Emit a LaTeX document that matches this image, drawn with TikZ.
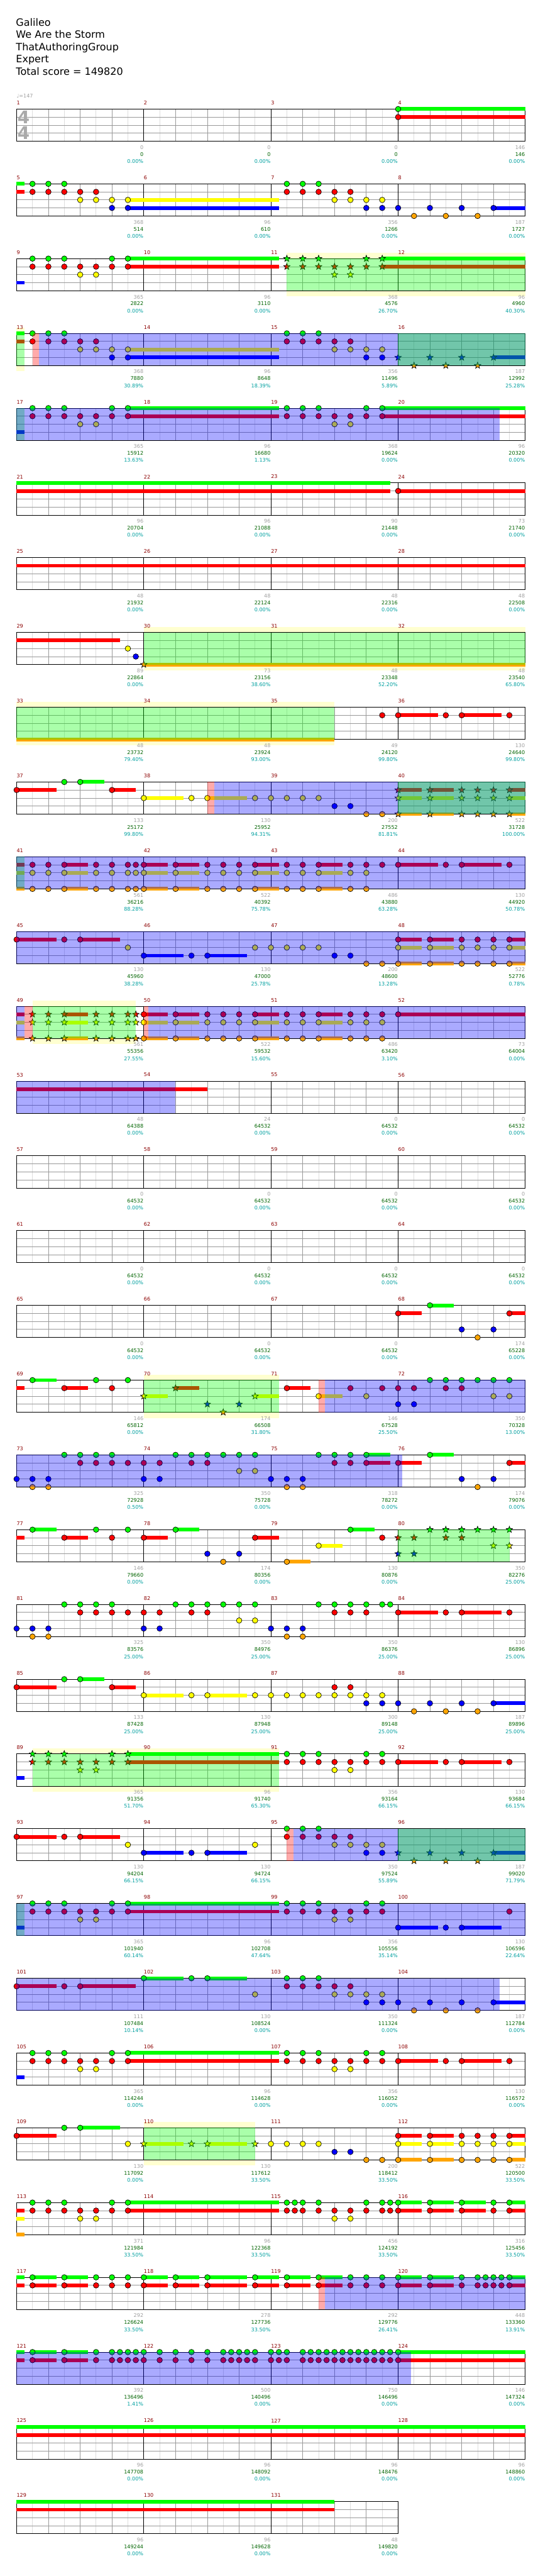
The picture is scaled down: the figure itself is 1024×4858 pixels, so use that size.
\documentclass[tikz,border=0pt]{standalone}
\usepackage{fontspec}
\setmainfont{DejaVu Sans}
\definecolor{ln0}{RGB}{0,255,0}
\definecolor{ln1}{RGB}{255,0,0}
\definecolor{ln2}{RGB}{255,255,0}
\definecolor{ln3}{RGB}{0,0,255}
\definecolor{ln4}{RGB}{255,165,0}
\definecolor{ybc}{RGB}{255,255,208}
\definecolor{gridlight}{RGB}{221,221,221}
\definecolor{gridmid}{RGB}{153,153,153}
\definecolor{mred}{RGB}{140,0,0}
\definecolor{sgray}{RGB}{160,160,160}
\definecolor{sgreen}{RGB}{0,100,0}
\definecolor{steal}{RGB}{0,160,160}
\definecolor{tsgray}{RGB}{170,170,170}
\pgfdeclarelayer{bgl}\pgfdeclarelayer{gridl}\pgfdeclarelayer{susl}\pgfdeclarelayer{notel}\pgfdeclarelayer{ovl}
\pgfsetlayers{bgl,gridl,susl,notel,ovl,main}
\newcommand\lanesp{15.15}
\newcommand\staffh{60.6}
\newcommand\smf{\fontsize{9.6}{11}\selectfont}
% circle notes: lanes, positions
\newcommand\xn[2]{\begin{pgfonlayer}{notel}\foreach \ll in {#1}{\foreach \pp in {#2}{\draw[notec,fill=ln\ll] ({30*\pp},{\lanesp*\ll}) circle[radius=5.2pt];}}\end{pgfonlayer}}
% star notes
\newcommand\xs[2]{\begin{pgfonlayer}{notel}\foreach \ll in {#1}{\foreach \pp in {#2}{\draw[notec,fill=ln\ll] ({30*\pp},{\lanesp*\ll}) +(90:6.4pt) -- +(126:2.7pt) -- +(162:6.4pt) -- +(198:2.7pt) -- +(234:6.4pt) -- +(270:2.7pt) -- +(306:6.4pt) -- +(342:2.7pt) -- +(18:6.4pt) -- +(54:2.7pt) -- cycle;}}\end{pgfonlayer}}
% sustains: lanes, from, to
\newcommand\xu[3]{\begin{pgfonlayer}{susl}\foreach \ll in {#1}{\fill[ln\ll] ({30*#2},{\lanesp*\ll-3.5}) rectangle ({30*#3},{\lanesp*\ll+3.5});}\end{pgfonlayer}}
% overlays
\newcommand\xg[2]{\begin{pgfonlayer}{ovl}\fill[ln0,fill opacity=0.3333] ({30*#1},0) rectangle ({30*#2},\staffh);\end{pgfonlayer}}
\newcommand\xb[2]{\begin{pgfonlayer}{ovl}\fill[ln3,fill opacity=0.3333] ({30*#1},0) rectangle ({30*#2},\staffh);\end{pgfonlayer}}
\newcommand\xp[2]{\begin{pgfonlayer}{ovl}\fill[ln1,fill opacity=0.3333] ({30*#1},0) rectangle ({30*#2},\staffh);\end{pgfonlayer}}
\newcommand\xy[2]{\begin{pgfonlayer}{bgl}\fill[ybc] ({30*#1},-10.5) rectangle ({30*#2},0);\fill[ybc] ({30*#1},\staffh) rectangle ({30*#2},71.2);\end{pgfonlayer}}
% grid
\newcommand\xgrid[1]{\begin{pgfonlayer}{gridl}%
\pgfmathtruncatemacro\xne{8*#1-1}\pgfmathtruncatemacro\xnm{#1-1}%
\foreach \ii in {1,3,...,\xne}{\draw[gl] ({30*\ii},0) -- ({30*\ii},\staffh);}
\foreach \ii in {1,2,3}{\draw[gm] (0,{\lanesp*\ii}) -- ({240*#1},{\lanesp*\ii});}
\foreach \ii in {2,4,...,\xne}{\draw[gm] ({30*\ii},0) -- ({30*\ii},\staffh);}
\foreach \ii in {1,...,\xnm}{\draw[gk] ({240*\ii},0) -- ({240*\ii},\staffh);}
\draw[gk] (0,0) rectangle ({240*#1},\staffh);
\end{pgfonlayer}}
% labels: slot, measure, a, b, c
\newcommand\xlab[5]{%
\node[mnum,name=mn#2] at ({240*#1},-11.7) {#2};
\node[lga,name=sa#2] at ({240*#1+239.5},72.2) {#3};
\node[lgb,name=sb#2] at ({240*#1+239.5},85.2) {#4};
\node[lgc,name=sc#2] at ({240*#1+239.5},98.5) {#5};}
\begin{document}
\begin{tikzpicture}[x=1pt,y=-1pt,
  notec/.style={draw=black,line width=0.8pt},
  gl/.style={draw=gridlight,line width=1pt},
  gm/.style={draw=gridmid,line width=1pt},
  gk/.style={draw=black,line width=1pt},
  mnum/.style={anchor=west,inner sep=0pt,text=mred,font=\smf},
  lga/.style={anchor=east,inner sep=0pt,text=sgray,font=\smf},
  lgb/.style={anchor=east,inner sep=0pt,text=sgreen,font=\smf},
  lgc/.style={anchor=east,inner sep=0pt,text=steal,font=\smf},
  ttl/.style={anchor=base west,inner sep=0pt,font=\fontsize{19}{23}\selectfont},
  tsig/.style={inner sep=0pt,text=tsgray,font=\fontsize{33}{33}\selectfont\bfseries}]
\useasboundingbox (0,0) rectangle (1024,4858);
\begin{pgfonlayer}{bgl}\fill[white] (0,0) rectangle (1024,4858);\end{pgfonlayer}
\node[ttl,name=t1] at (30,49.3) {Galileo};
\node[ttl,name=t2] at (30,72.3) {We Are the Storm};
\node[ttl,name=t3] at (30,95.3) {ThatAuthoringGroup};
\node[ttl,name=t4] at (30,118.3) {Expert};
\node[ttl,name=t5] at (30,141.3) {Total score = 149820};
% row 0
\begin{scope}[shift={(31.3,205.7)}]
\xgrid{4}
\node[tsig,name=ts1] at (13.2,15.1) {4};
\node[tsig,name=ts2] at (13.2,44.8) {4};
\node[anchor=west,inner sep=0pt,text=sgray,font=\smf,name=tempo] at (0,-24.7) {♩=147};
\xu{0,1}{24}{32}\xn{0,1}{24}
\xlab{0}{1}{0}{0}{0.00\%}\xlab{1}{2}{0}{0}{0.00\%}\xlab{2}{3}{0}{0}{0.00\%}\xlab{3}{4}{146}{146}{0.00\%}
\end{scope}
% row 1
\begin{scope}[shift={(31.3,346.7)}]
\xgrid{4}
\xu{0,1}{0}{0.5}
\xn{0}{1,2,3}\xn{1}{1,...,5}\xn{2}{4,5,6,7}\xn{3}{6,7}\xu{2,3}{7}{16.5}
\xn{0}{17,18,19}\xn{1}{17,...,21}\xn{2}{20,...,23}\xn{3}{22,23,24,26,28,30}\xu{3}{30}{32}\xn{4}{25,27,29}
\xlab{0}{5}{368}{514}{0.00\%}\xlab{1}{6}{96}{610}{0.00\%}\xlab{2}{7}{356}{1266}{0.00\%}\xlab{3}{8}{187}{1727}{0.00\%}
\end{scope}
% row 2
\begin{scope}[shift={(31.3,487.7)}]
\xgrid{4}
\xu{3}{0}{0.5}
\xn{0}{1,2,3,6,7}\xn{1}{1,...,7}\xn{2}{4,5}\xu{0,1}{7}{16.5}
\xs{0}{17,18,19,22,23}\xs{1}{17,...,23}\xs{2}{20,21}\xu{0,1}{23}{32}
\xg{17}{32}\xy{17}{32}
\xlab{0}{9}{365}{2822}{0.00\%}\xlab{1}{10}{96}{3110}{0.00\%}\xlab{2}{11}{368}{4576}{26.70\%}\xlab{3}{12}{96}{4960}{40.30\%}
\end{scope}
% row 3
\begin{scope}[shift={(31.3,628.7)}]
\xgrid{4}
\xu{0,1}{0}{0.5}\xg{0}{0.5}\xy{0}{0.5}
\xn{0}{1,2,3}\xn{1}{1,...,5}\xn{2}{4,5,6,7}\xn{3}{6,7}\xu{2,3}{7}{16.5}
\xn{0}{17,18,19}\xn{1}{17,...,21}\xn{2}{20,...,23}\xn{3}{22,23}
\xs{3}{24,26,28,30}\xu{3}{30}{32}\xs{4}{25,27,29}
\xp{1}{1.4}\xb{1.4}{32}\xg{24}{32}
\xlab{0}{13}{368}{7880}{30.89\%}\xlab{1}{14}{96}{8648}{18.39\%}\xlab{2}{15}{356}{11496}{5.89\%}\xlab{3}{16}{187}{12992}{25.28\%}
\end{scope}
% row 4
\begin{scope}[shift={(31.3,769.7)}]
\xgrid{4}
\xg{0}{0.5}\xb{0}{30.4}\xu{3}{0}{0.5}
\xn{0}{1,2,3,6,7}\xn{1}{1,...,7}\xn{2}{4,5}\xu{0,1}{7}{16.5}
\xn{0}{17,18,19,22,23}\xn{1}{17,...,23}\xn{2}{20,21}\xu{0,1}{23}{32}
\xlab{0}{17}{365}{15912}{13.63\%}\xlab{1}{18}{96}{16680}{1.13\%}\xlab{2}{19}{368}{19624}{0.00\%}\xlab{3}{20}{96}{20320}{0.00\%}
\end{scope}
% row 5
\begin{scope}[shift={(31.3,910.7)}]
\xgrid{4}
\xu{0,1}{0}{23.5}\xn{1}{24}\xu{1}{24}{32}
\xlab{0}{21}{96}{20704}{0.00\%}\xlab{1}{22}{96}{21088}{0.00\%}\xlab{2}{23}{90}{21448}{0.00\%}\xlab{3}{24}{73}{21740}{0.00\%}
\end{scope}
% row 6
\begin{scope}[shift={(31.3,1051.7)}]
\xgrid{4}
\xu{1}{0}{32}
\xlab{0}{25}{48}{21932}{0.00\%}\xlab{1}{26}{48}{22124}{0.00\%}\xlab{2}{27}{48}{22316}{0.00\%}\xlab{3}{28}{48}{22508}{0.00\%}
\end{scope}
% row 7
\begin{scope}[shift={(31.3,1192.7)}]
\xgrid{4}
\xu{1}{0}{6.5}\xn{2}{7}\xn{3}{7.5}\xs{4}{8}\xu{4}{8}{32}
\xg{8}{32}\xy{8}{32}
\xlab{0}{29}{89}{22864}{0.00\%}\xlab{1}{30}{73}{23156}{38.60\%}\xlab{2}{31}{48}{23348}{52.20\%}\xlab{3}{32}{48}{23540}{65.80\%}
\end{scope}
% row 8
\begin{scope}[shift={(31.3,1333.7)}]
\xgrid{4}
\xu{4}{0}{20}\xg{0}{20}\xy{0}{20}
\xn{1}{23,24,27,28,31}\xu{1}{24}{26.5}\xu{1}{28}{30.5}
\xlab{0}{33}{48}{23732}{79.40\%}\xlab{1}{34}{48}{23924}{93.00\%}\xlab{2}{35}{49}{24120}{99.80\%}\xlab{3}{36}{130}{24640}{99.80\%}
\end{scope}
% row 9
\begin{scope}[shift={(31.3,1474.7)}]
\xgrid{4}
\xn{1}{0,6}\xu{1}{0}{2.5}\xu{1}{6}{7.5}\xn{0}{3,4}\xu{0}{4}{5.5}
\xn{2}{8,11,12,15,16,17,18,19}\xu{2}{8}{10.5}\xu{2}{12}{14.5}
\xn{3}{20,21}\xn{4}{22,23}
\xs{1,2,4}{24,26,28,29,30,31}\xu{1,2,4}{24}{25.5}\xu{1,2,4}{26}{27.5}\xu{1,2,4}{31}{32}
\xp{12}{12.43}\xb{12.43}{32}\xg{24}{32}
\xlab{0}{37}{133}{25172}{99.80\%}\xlab{1}{38}{130}{25952}{94.31\%}\xlab{2}{39}{200}{27552}{81.81\%}\xlab{3}{40}{522}{31728}{100.00\%}
\end{scope}
% row 10
\begin{scope}[shift={(31.3,1615.7)}]
\xgrid{4}
\xu{1,2,4}{0}{0.5}\xg{0}{0.5}\xb{0}{32}
\xn{1,2,4}{1,2,3,5,6,7,7.5,8,10,12,13,14,15,17,18,19,21,22}
\xu{1,2,4}{3}{4.5}\xu{1,2,4}{8}{9.5}\xu{1,2,4}{10}{11.5}\xu{1,2,4}{15}{16.5}\xu{1,2,4}{19}{20.5}
\xn{1}{23,24,27,28,31}\xu{1}{24}{26.5}\xu{1}{28}{30.5}
\xlab{0}{41}{561}{36216}{88.28\%}\xlab{1}{42}{522}{40392}{75.78\%}\xlab{2}{43}{486}{43880}{63.28\%}\xlab{3}{44}{130}{44920}{50.78\%}
\end{scope}
% row 11
\begin{scope}[shift={(31.3,1756.7)}]
\xgrid{4}
\xb{0}{32}
\xn{1}{0,3,4}\xu{1}{0}{2.5}\xu{1}{4}{6.5}
\xn{2}{7,15,16,17,18,19}\xn{3}{8,11,12,20,21}\xu{3}{8}{10.5}\xu{3}{12}{14.5}\xn{4}{22,23}
\xn{1,2,4}{24,26,28,29,30,31}\xu{1,2,4}{24}{25.5}\xu{1,2,4}{26}{27.5}\xu{1,2,4}{31}{32}
\xlab{0}{45}{130}{45960}{38.28\%}\xlab{1}{46}{130}{47000}{25.78\%}\xlab{2}{47}{200}{48600}{13.28\%}\xlab{3}{48}{522}{52776}{0.78\%}
\end{scope}
% row 12
\begin{scope}[shift={(31.3,1897.7)}]
\xgrid{4}
\xu{1,2,4}{0}{0.5}\xb{0}{0.48}\xp{0.48}{1}\xg{1}{7.48}\xy{1}{7.48}\xp{8}{8.3}\xb{8.3}{32}
\xs{1,2,4}{1,2,3,5,6,7,7.5}\xu{1,2,4}{3}{4.5}
\xn{1,2,4}{8,10,12,13,14,15,17,18,19,21,22,23}
\xu{1,2,4}{8}{9.5}\xu{1,2,4}{10}{11.5}\xu{1,2,4}{15}{16.5}\xu{1,2,4}{19}{20.5}
\xn{1}{24}\xu{1}{24}{32}
\xlab{0}{49}{561}{55356}{27.55\%}\xlab{1}{50}{522}{59532}{15.60\%}\xlab{2}{51}{486}{63420}{3.10\%}\xlab{3}{52}{73}{64004}{0.00\%}
\end{scope}
% row 13
\begin{scope}[shift={(31.3,2038.7)}]
\xgrid{4}
\xu{1}{0}{12}\xb{0}{10}
\xlab{0}{53}{48}{64388}{0.00\%}\xlab{1}{54}{24}{64532}{0.00\%}\xlab{2}{55}{0}{64532}{0.00\%}\xlab{3}{56}{0}{64532}{0.00\%}
\end{scope}
% row 14
\begin{scope}[shift={(31.3,2179.7)}]
\xgrid{4}
\xlab{0}{57}{0}{64532}{0.00\%}\xlab{1}{58}{0}{64532}{0.00\%}\xlab{2}{59}{0}{64532}{0.00\%}\xlab{3}{60}{0}{64532}{0.00\%}
\end{scope}
% row 15
\begin{scope}[shift={(31.3,2320.7)}]
\xgrid{4}
\xlab{0}{61}{0}{64532}{0.00\%}\xlab{1}{62}{0}{64532}{0.00\%}\xlab{2}{63}{0}{64532}{0.00\%}\xlab{3}{64}{0}{64532}{0.00\%}
\end{scope}
% row 16
\begin{scope}[shift={(31.3,2461.7)}]
\xgrid{4}
\xn{1}{24,31}\xu{1}{24}{25.5}\xu{1}{31}{32}\xn{0}{26}\xu{0}{26}{27.5}\xn{3}{28,30}\xn{4}{29}
\xlab{0}{65}{0}{64532}{0.00\%}\xlab{1}{66}{0}{64532}{0.00\%}\xlab{2}{67}{0}{64532}{0.00\%}\xlab{3}{68}{174}{65228}{0.00\%}
\end{scope}
% row 17
\begin{scope}[shift={(31.3,2602.7)}]
\xgrid{4}
\xu{1}{0}{0.5}
\xn{0}{1,5,7}\xu{0}{1}{2.5}\xn{1}{3,6}\xu{1}{3}{4.5}
\xs{2}{8,15}\xu{2}{8}{9.5}\xu{2}{15}{16.5}\xs{1}{10}\xu{1}{10}{11.5}\xs{3}{12,14}\xs{4}{13}
\xg{8}{16.5}\xy{8}{16.5}
\xn{1}{17}\xu{1}{17}{18.5}\xn{2}{19}\xu{2}{19}{20.5}
\xp{19}{19.4}\xb{19.4}{32}
\xn{1}{21,23,24,25,27,28}\xn{2}{22,30,31}\xn{3}{24,25}\xn{0}{26,27,28,29,30,31}
\xlab{0}{69}{146}{65812}{0.00\%}\xlab{1}{70}{174}{66508}{31.80\%}\xlab{2}{71}{146}{67528}{25.50\%}\xlab{3}{72}{350}{70328}{13.00\%}
\end{scope}
% row 18
\begin{scope}[shift={(31.3,2743.7)}]
\xgrid{4}
\xb{0}{24.26}
\xn{0}{3,4,5,6,10,11,12,13,14,15,19,20,21,22,26}\xu{0}{22}{23.5}\xu{0}{26}{27.5}
\xn{1}{4,5,6,7,8,9,11,12,20,21,22,24,31}\xu{1}{22}{23.5}\xu{1}{24}{25.5}\xu{1}{31}{32}
\xn{2}{14,15}\xn{3}{0,1,2,8,9,16,17,18,28,30}\xn{4}{1,2,17,18,29}
\xlab{0}{73}{325}{72928}{0.50\%}\xlab{1}{74}{350}{75728}{0.00\%}\xlab{2}{75}{318}{78272}{0.00\%}\xlab{3}{76}{174}{79076}{0.00\%}
\end{scope}
% row 19
\begin{scope}[shift={(31.3,2884.7)}]
\xgrid{4}
\xu{1}{0}{0.5}
\xn{0}{1,5,7,10}\xu{0}{1}{2.5}\xu{0}{10}{11.5}
\xn{1}{3,6,8,15,23}\xu{1}{3}{4.5}\xu{1}{8}{9.5}\xu{1}{15}{16.5}
\xn{3}{12,14}\xn{4}{13,17}\xu{4}{17}{18.5}\xn{2}{19}\xu{2}{19}{20.5}\xn{0}{21}\xu{0}{21}{22.5}
\xs{1}{24,25,27,28}\xs{3}{24,25}\xs{0}{26,27,28,29,30,31}\xs{2}{30,31}
\xg{24}{31}
\xlab{0}{77}{146}{79660}{0.00\%}\xlab{1}{78}{174}{80356}{0.00\%}\xlab{2}{79}{130}{80876}{0.00\%}\xlab{3}{80}{350}{82276}{25.00\%}
\end{scope}
% row 20
\begin{scope}[shift={(31.3,3025.7)}]
\xgrid{4}
\xn{3}{0,1,2,8,9,16,17,18}\xn{4}{1,2,17,18}
\xn{0}{3,4,5,6,10,11,12,13,14,15,19,20,21,22,23,23.5}
\xn{1}{4,5,6,7,8,9,11,12,20,21,22,24,27,28,31}\xu{1}{24}{26.5}\xu{1}{28}{30.5}
\xn{2}{14,15}
\xlab{0}{81}{325}{83576}{25.00\%}\xlab{1}{82}{350}{84976}{25.00\%}\xlab{2}{83}{350}{86376}{25.00\%}\xlab{3}{84}{130}{86896}{25.00\%}
\end{scope}
% row 21
\begin{scope}[shift={(31.3,3166.7)}]
\xgrid{4}
\xn{1}{0,6,20,21}\xu{1}{0}{2.5}\xu{1}{6}{7.5}\xn{0}{3,4}\xu{0}{4}{5.5}
\xn{2}{8,11,12,15,16,...,23}\xu{2}{8}{10.5}\xu{2}{12}{14.5}
\xn{3}{22,23,24,26,28,30}\xu{3}{30}{32}\xn{4}{25,27,29}
\xlab{0}{85}{133}{87428}{25.00\%}\xlab{1}{86}{130}{87948}{25.00\%}\xlab{2}{87}{300}{89148}{25.00\%}\xlab{3}{88}{187}{89896}{25.00\%}
\end{scope}
% row 22
\begin{scope}[shift={(31.3,3307.7)}]
\xgrid{4}
\xu{3}{0}{0.5}\xg{1}{16.5}\xy{1}{16.5}
\xs{0}{1,2,3,6,7}\xs{1}{1,...,7}\xs{2}{4,5}\xu{0,1}{7}{16.5}
\xn{0}{17,18,19,22,23}\xn{1}{17,...,23}\xn{2}{20,21}
\xn{1}{24,27,28,31}\xu{1}{24}{26.5}\xu{1}{28}{30.5}
\xlab{0}{89}{365}{91356}{51.70\%}\xlab{1}{90}{96}{91740}{65.30\%}\xlab{2}{91}{356}{93164}{66.15\%}\xlab{3}{92}{130}{93684}{66.15\%}
\end{scope}
% row 23
\begin{scope}[shift={(31.3,3448.7)}]
\xgrid{4}
\xn{1}{0,3,4}\xu{1}{0}{2.5}\xu{1}{4}{6.5}
\xn{2}{7,15,20,21,22,23}\xn{3}{8,11,12,22,23}\xu{3}{8}{10.5}\xu{3}{12}{14.5}
\xn{0}{17,18,19}\xn{1}{17,...,21}
\xs{3}{24,26,28,30}\xu{3}{30}{32}\xs{4}{25,27,29}
\xp{17}{17.4}\xb{17.4}{32}\xg{24}{32}
\xlab{0}{93}{130}{94204}{66.15\%}\xlab{1}{94}{130}{94724}{66.15\%}\xlab{2}{95}{350}{97524}{55.89\%}\xlab{3}{96}{187}{99020}{71.79\%}
\end{scope}
% row 24
\begin{scope}[shift={(31.3,3589.7)}]
\xgrid{4}
\xg{0}{0.5}\xb{0}{32}\xu{3}{0}{0.5}
\xn{0}{1,2,3,6,7}\xn{1}{1,...,7}\xn{2}{4,5}\xu{0,1}{7}{16.5}
\xn{0}{17,18,19,22,23}\xn{1}{17,...,23}\xn{2}{20,21}
\xn{3}{24,27,28}\xu{3}{24}{26.5}\xu{3}{28}{30.5}\xn{1}{31}
\xlab{0}{97}{365}{101940}{60.14\%}\xlab{1}{98}{96}{102708}{47.64\%}\xlab{2}{99}{356}{105556}{35.14\%}\xlab{3}{100}{130}{106596}{22.64\%}
\end{scope}
% row 25
\begin{scope}[shift={(31.3,3730.7)}]
\xgrid{4}
\xb{0}{30.4}
\xn{1}{0,3,4}\xu{1}{0}{2.5}\xu{1}{4}{7.5}
\xn{0}{8,11,12}\xu{0}{8}{10.5}\xu{0}{12}{14.5}\xn{2}{15}
\xn{0}{17,18,19}\xn{1}{17,...,21}\xn{2}{20,...,23}
\xn{3}{22,23,24,26,28,30}\xu{3}{30}{32}\xn{4}{25,27,29}
\xlab{0}{101}{111}{107484}{10.14\%}\xlab{1}{102}{130}{108524}{0.00\%}\xlab{2}{103}{350}{111324}{0.00\%}\xlab{3}{104}{187}{112784}{0.00\%}
\end{scope}
% row 26
\begin{scope}[shift={(31.3,3871.7)}]
\xgrid{4}
\xu{3}{0}{0.5}
\xn{0}{1,2,3,6,7}\xn{1}{1,...,7}\xn{2}{4,5}\xu{0,1}{7}{16.5}
\xn{0}{17,18,19,22,23}\xn{1}{17,...,23}\xn{2}{20,21}
\xn{1}{24,27,28,31}\xu{1}{24}{26.5}\xu{1}{28}{30.5}
\xlab{0}{105}{365}{114244}{0.00\%}\xlab{1}{106}{96}{114628}{0.00\%}\xlab{2}{107}{356}{116052}{0.00\%}\xlab{3}{108}{130}{116572}{0.00\%}
\end{scope}
% row 27
\begin{scope}[shift={(31.3,4012.7)}]
\xgrid{4}
\xn{1}{0}\xu{1}{0}{2.5}\xn{0}{3,4}\xu{0}{4}{6.5}\xn{2}{7}
\xg{8}{15}\xy{8}{15}
\xs{2}{8,11,12,15}\xu{2}{8}{10.5}\xu{2}{12}{14.5}
\xn{2}{16,17,18,19}\xn{3}{20,21}\xn{4}{22,23}
\xn{1,2,4}{24,26,28,29,30,31}\xu{1,2,4}{24}{25.5}\xu{1,2,4}{26}{27.5}\xu{1,2,4}{31}{32}
\xlab{0}{109}{130}{117092}{0.00\%}\xlab{1}{110}{130}{117612}{33.50\%}\xlab{2}{111}{200}{118412}{33.50\%}\xlab{3}{112}{522}{120500}{33.50\%}
\end{scope}
% row 28
\begin{scope}[shift={(31.3,4153.7)}]
\xgrid{4}
\xu{1,2,4}{0}{0.5}
\xn{0}{1,2,3,6,7}\xn{1}{1,...,7}\xn{2}{4,5}\xu{0,1}{7}{16.5}
\xn{0}{17,17.5,18,19,22,23,23.5}\xn{1}{17,17.5,18,19,20,21,22,23,23.5}\xn{2}{20,21}
\xn{0,1}{24,26,28,30,31}\xu{0,1}{24}{25.5}\xu{0,1}{26}{27.5}\xu{0,1}{28}{29.5}\xu{0,1}{31}{32}
\xlab{0}{113}{371}{121984}{33.50\%}\xlab{1}{114}{96}{122368}{33.50\%}\xlab{2}{115}{456}{124192}{33.50\%}\xlab{3}{116}{316}{125456}{33.50\%}
\end{scope}
% row 29
\begin{scope}[shift={(31.3,4294.7)}]
\xgrid{4}
\xu{0,1}{0}{0.5}
\xn{0,1}{1,3,5,6,7,8,10,12,15,17,19,21,22,23,24,26,28,29,29.5,30,30.5,31}
\xu{0,1}{1}{2.5}\xu{0,1}{3}{4.5}\xu{0,1}{8}{9.5}\xu{0,1}{10}{11.5}\xu{0,1}{12}{14.5}\xu{0,1}{15}{16.5}
\xu{0,1}{17}{18.5}\xu{0,1}{19}{20.5}\xu{0,1}{24}{25.5}\xu{0,1}{26}{27.5}\xu{0,1}{31}{32}
\xp{19}{19.4}\xb{19.4}{32}
\xlab{0}{117}{292}{126624}{33.50\%}\xlab{1}{118}{278}{127736}{33.50\%}\xlab{2}{119}{292}{129776}{26.41\%}\xlab{3}{120}{448}{133360}{13.91\%}
\end{scope}
% row 30
\begin{scope}[shift={(31.3,4435.7)}]
\xgrid{4}
\xb{0}{24.83}\xu{0,1}{0}{0.5}
\xn{0,1}{1,3,5,6,6.5,7,7.5,8,9,10,11,12,13,13.5,14,14.5,15,16,16.5,17,18,18.5,19,19.5,20,20.5,21,21.5,22,22.5,23,23.5,24}
\xu{0,1}{1}{2.5}\xu{0,1}{3}{4.5}\xu{0,1}{24}{32}
\xlab{0}{121}{392}{136496}{1.41\%}\xlab{1}{122}{500}{140496}{0.00\%}\xlab{2}{123}{750}{146496}{0.00\%}\xlab{3}{124}{146}{147324}{0.00\%}
\end{scope}
% row 31
\begin{scope}[shift={(31.3,4576.7)}]
\xgrid{4}
\xu{0,1}{0}{32}
\xlab{0}{125}{96}{147708}{0.00\%}\xlab{1}{126}{96}{148092}{0.00\%}\xlab{2}{127}{96}{148476}{0.00\%}\xlab{3}{128}{96}{148860}{0.00\%}
\end{scope}
% row 32
\begin{scope}[shift={(31.3,4717.7)}]
\xgrid{3}
\xu{0,1}{0}{20}
\xlab{0}{129}{96}{149244}{0.00\%}\xlab{1}{130}{96}{149628}{0.00\%}\xlab{2}{131}{48}{149820}{0.00\%}
\end{scope}
\end{tikzpicture}
\end{document}
